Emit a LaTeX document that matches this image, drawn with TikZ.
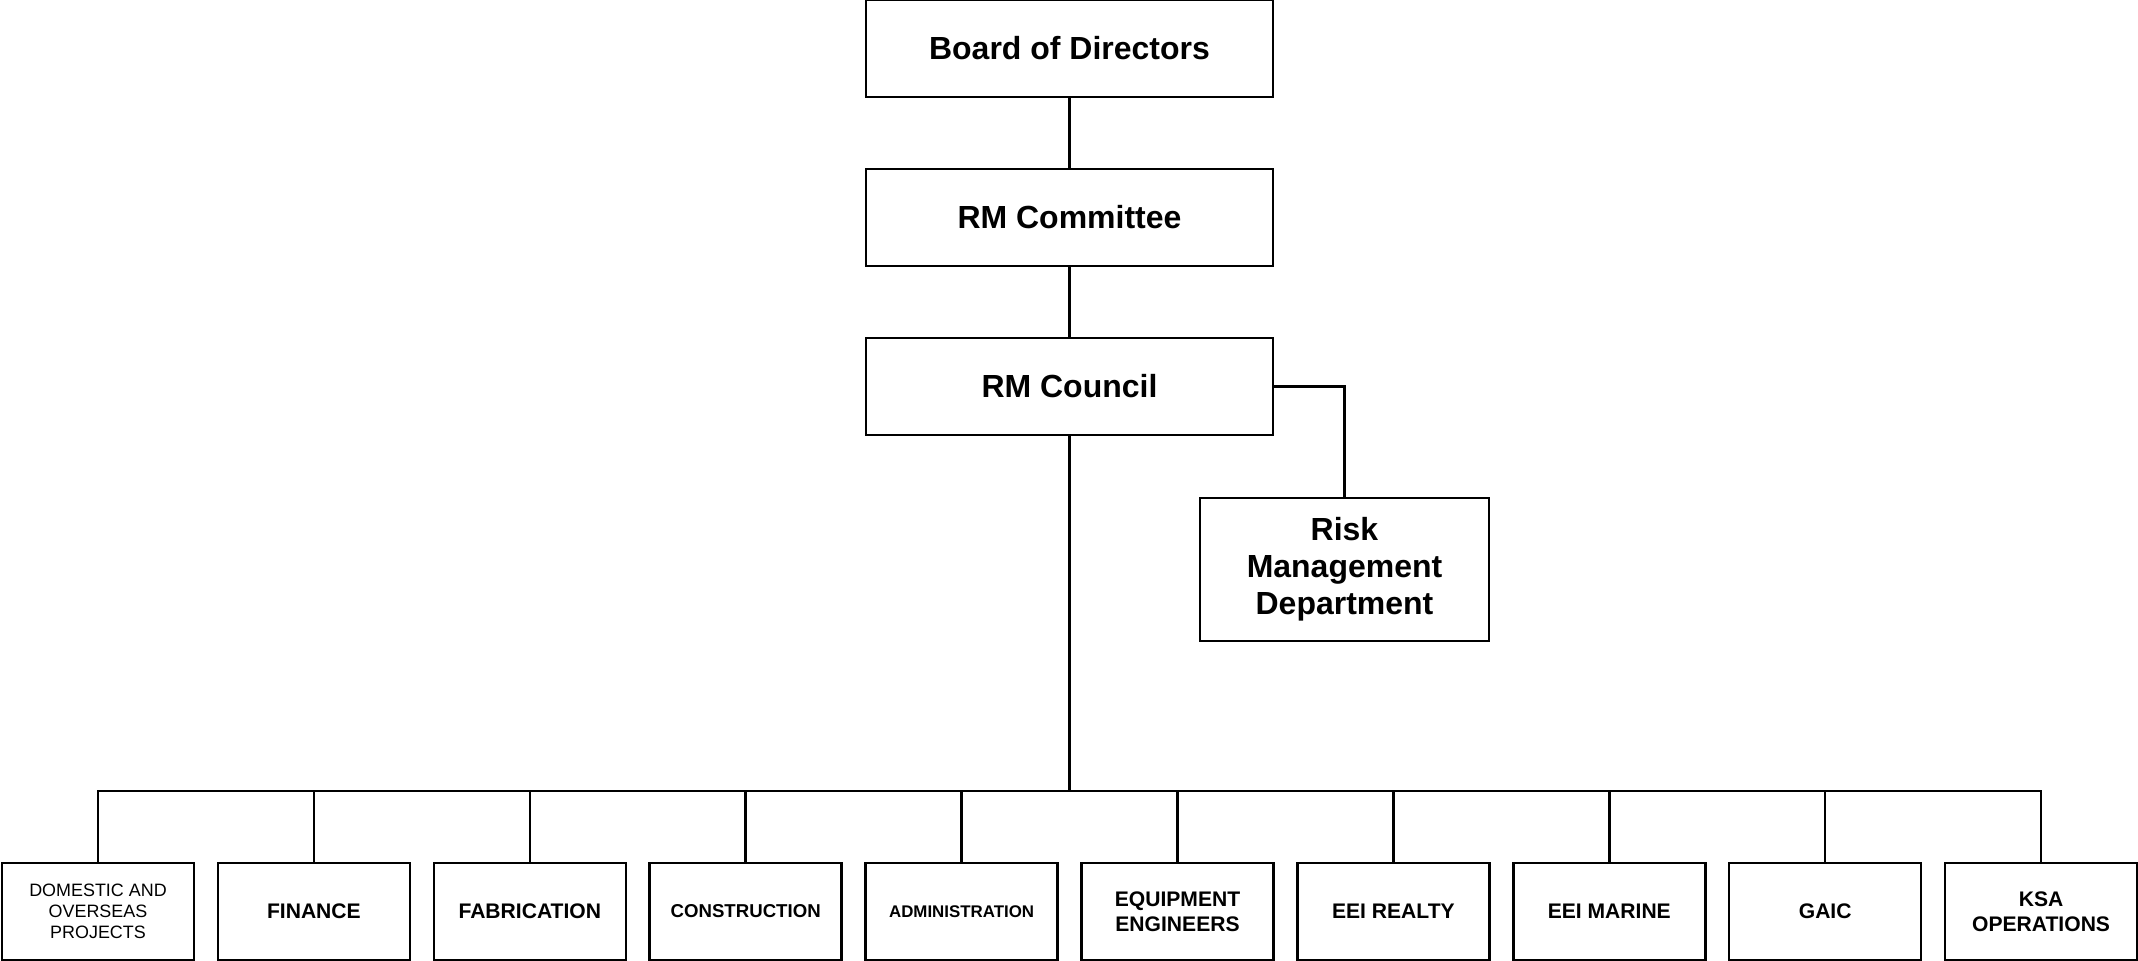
\documentclass[tikz,border=0pt]{standalone}
\usepackage{fontspec}
\setmainfont{Liberation Sans}
\usetikzlibrary{positioning}

\begin{document}
\begin{tikzpicture}
  \tikzset{top box/.style={draw, line width=0.7pt, outer sep=0pt, minimum width=4.07cm, minimum height=0.97cm, inner sep=0pt, align=center, font=\fontsize{9.1}{10.5}\selectfont\bfseries}}
  \tikzset{unit box/.style={draw, line width=0.7pt, outer sep=0pt, minimum width=1.92cm, minimum height=0.97cm, inner sep=0pt, align=center, font=\fontsize{6}{7}\selectfont\bfseries}}

  \def\X{10.695}
  \def\G{0.239}
  \def\B{1.69}

  \useasboundingbox (0,0) rectangle (21.38,9.6);

  \node[top box] (board) at (\X,9.115) {Board of Directors};
  \node[top box, below=0.72cm of board] (committee) {RM Committee};
  \node[top box, below=0.72cm of committee] (council) {RM Council};
  \node[top box, minimum width=2.89cm, minimum height=1.43cm] (rmd) at (13.445,3.905) {Risk\\Management\\Department};

  \node[unit box, font=\fontsize{5.1}{6}\selectfont] (projects) at (0.98,0.485) {DOMESTIC AND\\OVERSEAS\\PROJECTS};
  \node[unit box, right=\G cm of projects] (finance) {FINANCE};
  \node[unit box, right=\G cm of finance] (fabrication) {FABRICATION};
  \node[unit box, right=\G cm of fabrication, font=\fontsize{5.3}{6.3}\selectfont\bfseries] (construction) {CONSTRUCTION};
  \node[unit box, right=\G cm of construction, font=\fontsize{4.8}{5.8}\selectfont\bfseries] (admin) {ADMINISTRATION};
  \node[unit box, right=\G cm of admin] (equipment) {EQUIPMENT\\ENGINEERS};
  \node[unit box, right=\G cm of equipment] (realty) {EEI REALTY};
  \node[unit box, right=\G cm of realty] (marine) {EEI MARINE};
  \node[unit box, right=\G cm of marine] (gaic) {GAIC};
  \node[unit box, right=\G cm of gaic] (ksa) {KSA\\OPERATIONS};

  \coordinate (bus) at (\X,\B);

  \draw[line width=0.7pt] (board) -- (committee);
  \draw[line width=0.7pt] (committee) -- (council);
  \draw[line width=0.7pt] (council.east) -| (rmd.north);
  \draw[line width=0.7pt] (council) -- (bus);
  \draw[line width=0.7pt] (projects.north) |- (bus) -| (ksa.north);

  \draw[line width=0.7pt] (finance.north) -- (finance.north |- bus);
  \draw[line width=0.7pt] (fabrication.north) -- (fabrication.north |- bus);
  \draw[line width=0.7pt] (construction.north) -- (construction.north |- bus);
  \draw[line width=0.7pt] (admin.north) -- (admin.north |- bus);
  \draw[line width=0.7pt] (equipment.north) -- (equipment.north |- bus);
  \draw[line width=0.7pt] (realty.north) -- (realty.north |- bus);
  \draw[line width=0.7pt] (marine.north) -- (marine.north |- bus);
  \draw[line width=0.7pt] (gaic.north) -- (gaic.north |- bus);
\end{tikzpicture}
\end{document}
